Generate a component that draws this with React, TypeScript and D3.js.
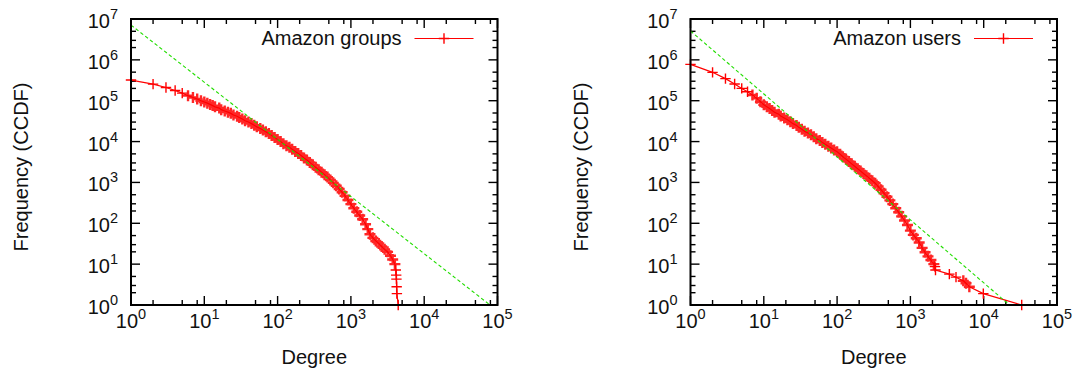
import React from "react";
import * as d3 from "d3";

// ---------- data ----------
// Amazon groups: [degree, CCDF frequency]
const GROUPS: [number, number][] = [
  [1, 321000], [2, 254000], [3, 211000], [4, 178000], [5, 153000], [6, 133000], [7, 120000], [8, 110000], [9, 100000],
  [10, 93300], [11, 87100], [12, 81300], [13, 75900], [14, 70800], [16, 66100], [17, 60300], [19, 56200], [21, 52500],
  [23, 49000], [25, 44700], [28, 41700], [30, 38900], [33, 35500], [36, 32400], [40, 30200], [44, 27500], [48, 25100],
  [52, 22900], [58, 20900], [63, 19100], [69, 17400], [76, 15800], [83, 14100], [91, 12600], [100, 11200], [110, 10000],
  [120, 8900], [132, 7940], [145, 7240], [158, 6460], [174, 5750], [191, 5130], [209, 4570], [229, 3980], [251, 3550],
  [275, 3090], [302, 2690], [331, 2340], [363, 2040], [398, 1780], [437, 1550], [479, 1350], [525, 1150], [575, 977],
  [631, 832], [692, 692], [759, 575], [832, 468], [912, 372], [1000, 295], [1096, 234], [1202, 191], [1318, 155],
  [1445, 126], [1585, 95], [1698, 72], [1820, 54], [1995, 44], [2188, 37], [2399, 32], [2630, 27], [2884, 23],
  [3162, 20], [3467, 16], [3715, 13], [3981, 10], [4100, 7.2], [4150, 5.4], [4180, 4.3], [4210, 2.8], [4240, 1.9],
  [4420, 1],
];

// Amazon users: [degree, CCDF frequency]
const USERS: [number, number][] = [
  [1, 776000], [2, 495000], [3, 347000], [4, 257000], [5, 200000], [6, 166000], [7, 138000], [8, 115000], [9, 94400],
  [10, 79400], [11, 71400], [12, 64300], [13, 57800], [14, 52000], [16, 46800], [17, 42100], [19, 37800], [21, 34000],
  [23, 30600], [25, 27500], [28, 24800], [30, 22300], [33, 20000], [36, 18000], [40, 16200], [44, 14600], [48, 13100],
  [52, 11800], [58, 10600], [63, 9550], [69, 8590], [76, 7730], [83, 6950], [91, 6250], [100, 5620], [110, 4900],
  [120, 4270], [132, 3720], [145, 3240], [158, 2850], [174, 2480], [191, 2160], [209, 1910], [229, 1660], [251, 1450],
  [275, 1260], [302, 1100], [331, 955], [363, 794], [398, 661], [437, 543], [479, 447], [525, 363], [575, 295],
  [631, 234], [692, 186], [759, 148], [832, 117], [912, 91], [1000, 66], [1096, 52], [1202, 43], [1318, 34],
  [1445, 25], [1585, 19.5], [1738, 15.5], [1905, 12.6], [2089, 10], [2163, 8.7], [2200, 7.2], [3400, 5.7],
  [4190, 4.8], [5270, 3.9], [5740, 3.4], [6370, 2.8], [9880, 1.9], [33000, 1],
];

// Power-law fit lines (two end points each)
const FIT_GROUPS: [number, number][] = [[1, 7.1e6], [79000, 1]];
const FIT_USERS: [number, number][] = [[1, 5.1e6], [22500, 1]];

const X_EXPONENTS = [0, 1, 2, 3, 4, 5];
const Y_EXPONENTS = [0, 1, 2, 3, 4, 5, 6, 7];
const X_MINOR = [2, 5, 8];
const Y_MINOR = [2, 3, 5];

const LEGENDS = ["Amazon groups", "Amazon users"];
const X_TITLE = "Degree";
const Y_TITLE = "Frequency (CCDF)";

// ---------- layout ----------
const TOP = 19;
const BOTTOM = 305;
const FONT = "'Liberation Sans', Arial, Helvetica, sans-serif";
const RED = "#ff0000";
const GREEN = "#22dd00";
const W = 5.2;

type PanelProps = {
  id: string;
  x0: number;
  x1: number;
  data: [number, number][];
  fit: [number, number][];
  legend: string;
};

function Panel({ id, x0, x1, data, fit, legend }: PanelProps) {
  const x = d3.scaleLog().domain([1, 1e5]).range([x0, x1]);
  const y = d3.scaleLog().domain([1, 1e7]).range([BOTTOM, TOP]);
  const line = d3
    .line<[number, number]>()
    .x((d) => x(d[0]))
    .y((d) => y(d[1]));

  const pts = data.map(([d, f]) => [x(d), y(f)] as [number, number]);
  const plus = (p: [number, number], w: number) => `M${p[0] - w},${p[1]}h${2 * w}M${p[0]},${p[1] - w}v${2 * w}`;
  const isDense = (i: number) => {
    const near = (j: number) =>
      j >= 0 &&
      j < pts.length &&
      Math.hypot(pts[i][0] - pts[j][0], pts[i][1] - pts[j][1]) < 5.5 &&
      Math.abs(pts[i][0] - pts[j][0]) > 1.5;
    return near(i - 1) || near(i + 1);
  };
  let sparse = "";
  let dense = "";
  pts.forEach((p, i) => {
    if (isDense(i)) dense += plus(p, W + 0.3);
    else sparse += plus(p, W);
  });

  const xMinor: number[] = [];
  X_EXPONENTS.slice(0, -1).forEach((e) => X_MINOR.forEach((m) => xMinor.push(m * Math.pow(10, e))));
  const yMinor: number[] = [];
  Y_EXPONENTS.slice(0, -1).forEach((e) => Y_MINOR.forEach((m) => yMinor.push(m * Math.pow(10, e))));

  const cx = (x0 + x1) / 2;
  const legY = 38.5;
  const lx0 = x1 - 83;
  const lx1 = x1 - 24;
  const lmx = (lx0 + lx1) / 2;

  return (
    <g>
      <defs>
        <clipPath id={id}>
          <rect x={x0} y={TOP} width={x1 - x0} height={BOTTOM - TOP} />
        </clipPath>
      </defs>

      {/* ticks */}
      <g stroke="#000" strokeWidth={1.4}>
        {X_EXPONENTS.map((e) => {
          const px = x(Math.pow(10, e));
          return (
            <g key={"xM" + e}>
              <line x1={px} x2={px} y1={BOTTOM} y2={BOTTOM - 9} />
              <line x1={px} x2={px} y1={TOP} y2={TOP + 9} />
            </g>
          );
        })}
        {xMinor.map((v, i) => {
          const px = x(v);
          return (
            <g key={"xm" + i}>
              <line x1={px} x2={px} y1={BOTTOM} y2={BOTTOM - 5} />
              <line x1={px} x2={px} y1={TOP} y2={TOP + 5} />
            </g>
          );
        })}
        {Y_EXPONENTS.map((e) => {
          const py = y(Math.pow(10, e));
          return (
            <g key={"yM" + e}>
              <line x1={x0} x2={x0 + 9} y1={py} y2={py} />
              <line x1={x1} x2={x1 - 9} y1={py} y2={py} />
            </g>
          );
        })}
        {yMinor.map((v, i) => {
          const py = y(v);
          return (
            <g key={"ym" + i}>
              <line x1={x0} x2={x0 + 5} y1={py} y2={py} />
              <line x1={x1} x2={x1 - 5} y1={py} y2={py} />
            </g>
          );
        })}
      </g>

      {/* data */}
      <path d={line(data) || ""} fill="none" stroke={RED} strokeWidth={1.2} clipPath={`url(#${id})`} />
      <path d={dense} fill="none" stroke={RED} strokeWidth={2.4} strokeOpacity={0.85} />
      <path d={sparse} fill="none" stroke={RED} strokeWidth={1.4} />

      {/* fit line */}
      <path
        d={line(fit) || ""}
        fill="none"
        stroke={GREEN}
        strokeWidth={1.1}
        strokeDasharray="3.5,2.5"
        clipPath={`url(#${id})`}
      />

      {/* frame */}
      <rect x={x0} y={TOP} width={x1 - x0} height={BOTTOM - TOP} fill="none" stroke="#000" strokeWidth={2} />

      {/* tick labels */}
      <g fontFamily={FONT} fontSize={20} fill="#111">
        {X_EXPONENTS.map((e) => (
          <text key={"xl" + e} x={x(Math.pow(10, e))} y={328} textAnchor="middle">
            <tspan>10</tspan>
            <tspan dy={-9} fontSize={14.5}>
              {e}
            </tspan>
          </text>
        ))}
        {Y_EXPONENTS.map((e) => (
          <text key={"yl" + e} x={x0 - 13} y={y(Math.pow(10, e)) + 9} textAnchor="end">
            <tspan>10</tspan>
            <tspan dy={-9} fontSize={14.5}>
              {e}
            </tspan>
          </text>
        ))}
        <text x={cx} y={364} textAnchor="middle">
          {X_TITLE}
        </text>
        <text transform={`translate(${x0 - 103},167) rotate(-90)`} textAnchor="middle">
          {Y_TITLE}
        </text>
        <text x={x1 - 96} y={45} textAnchor="end">
          {legend}
        </text>
      </g>

      {/* legend sample */}
      <line x1={lx0} x2={lx1} y1={legY} y2={legY} stroke={RED} strokeWidth={1.2} />
      <path d={plus([lmx, legY], W)} stroke={RED} strokeWidth={1.4} fill="none" />
    </g>
  );
}

export default function App() {
  return (
    <svg
      width={1080}
      height={375}
      viewBox="0 0 1080 375"
      style={{ position: "absolute", left: 0, top: 0, background: "#fff" }}
    >
      <rect x={0} y={0} width={1080} height={375} fill="#fff" />
      <Panel id="clipL" x0={131} x1={497.5} data={GROUPS} fit={FIT_GROUPS} legend={LEGENDS[0]} />
      <Panel id="clipR" x0={690.5} x1={1057} data={USERS} fit={FIT_USERS} legend={LEGENDS[1]} />
    </svg>
  );
}
